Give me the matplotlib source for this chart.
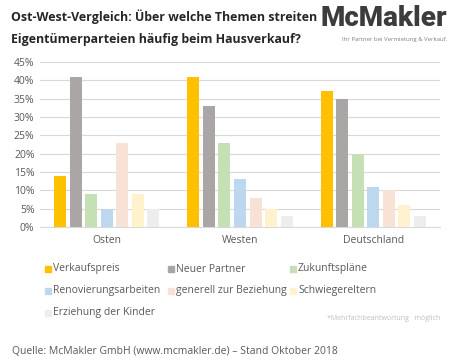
import numpy as np
import matplotlib.pyplot as plt
from matplotlib.patches import Rectangle

plt.rcParams['font.family'] = ['Open Sans', 'DejaVu Sans']

# Daten
regionen = ['Osten', 'Westen', 'Deutschland']
themen = ['Verkaufspreis', 'Neuer Partner', 'Zukunftspläne', 'Renovierungsarbeiten',
          'generell zur Beziehung', 'Schwiegereltern', 'Erziehung der Kinder']
werte = [
    [14, 41, 37],   # Verkaufspreis
    [41, 33, 35],   # Neuer Partner
    [9, 23, 20],    # Zukunftspläne
    [5, 13, 11],    # Renovierungsarbeiten
    [23, 8, 10],    # generell zur Beziehung
    [9, 5, 6],      # Schwiegereltern
    [5, 3, 3],      # Erziehung der Kinder
]
farben = ['#FFC000', '#ABA6A6', '#C5E0B4', '#BDD7EE', '#F8E1D5', '#FFF2CC', '#EDEDED']
y_ticks = [0, 5, 10, 15, 20, 25, 30, 35, 40, 45]

W, H = 453, 364
fig = plt.figure(figsize=(W / 100, H / 100), dpi=100)
ax = fig.add_axes([40 / W, 1 - 227 / H, 400 / W, 165 / H])

x = np.arange(len(regionen))
step = 0.1165
breite = 0.09
for i, (thema, vals) in enumerate(zip(themen, werte)):
    ax.bar(x + (i - 3) * step, vals, width=breite, color=farben[i], zorder=3)

ax.set_xlim(-0.5, 2.5)
ax.set_ylim(0, 45)
ax.set_yticks(y_ticks)
ax.set_yticklabels([f'{t}%' for t in y_ticks], fontsize=7.5, color='#595959')
ax.set_xticks(x)
ax.set_xticklabels(regionen, fontsize=7.5, color='#595959')
ax.tick_params(length=0, pad=6)
ax.tick_params(axis='y', pad=4)
ax.yaxis.grid(True, color='#D9D9D9', linewidth=0.8, zorder=0)
for s in ['top', 'right', 'left']:
    ax.spines[s].set_visible(False)
ax.spines['bottom'].set_color('#D9D9D9')
ax.spines['bottom'].set_linewidth(0.8)

# Titel
fig.text(11 / W, 1 - 17 / H, 'Ost-West-Vergleich: Über welche Themen streiten',
         fontsize=8.9, fontweight='bold', color='#262626', va='center')
fig.text(11 / W, 1 - 39 / H, 'Eigentümerparteien häufig beim Hausverkauf?',
         fontsize=8.9, fontweight='bold', color='#262626', va='center')

# Logo
fig.text(447 / W, 1 - 19 / H, 'McMakler', fontsize=20, fontweight='heavy',
         family=['Roboto', 'DejaVu Sans'], color='#3C3C3C', ha='right', va='center')
fig.text(447 / W, 1 - 39 / H, 'Ihr Partner bei Vermietung & Verkauf.', fontsize=4.3,
         color='#7F7F7F', ha='right', va='center')

# Legende
spalten_x = [45, 168, 290]
zeilen_y = [269, 291, 313]
for i, thema in enumerate(themen):
    zx = spalten_x[i % 3]
    zy = zeilen_y[i // 3]
    fig.patches.append(Rectangle((zx / W, 1 - (zy + 3) / H), 6 / W, 6 / H,
                                 transform=fig.transFigure, color=farben[i]))
    fig.text((zx + 8) / W, 1 - zy / H, thema, fontsize=7.5, color='#595959', va='center')

fig.text(440 / W, 1 - 318 / H, '*Mehrfachbeantwortung   möglich', fontsize=5,
         color='#BFBFBF', ha='right', va='center')

fig.text(12 / W, 1 - 352 / H, 'Quelle: McMakler GmbH (www.mcmakler.de) – Stand Oktober 2018',
         fontsize=7.5, color='#595959', va='center')

fig.savefig('out.png', dpi=100, facecolor='white')
